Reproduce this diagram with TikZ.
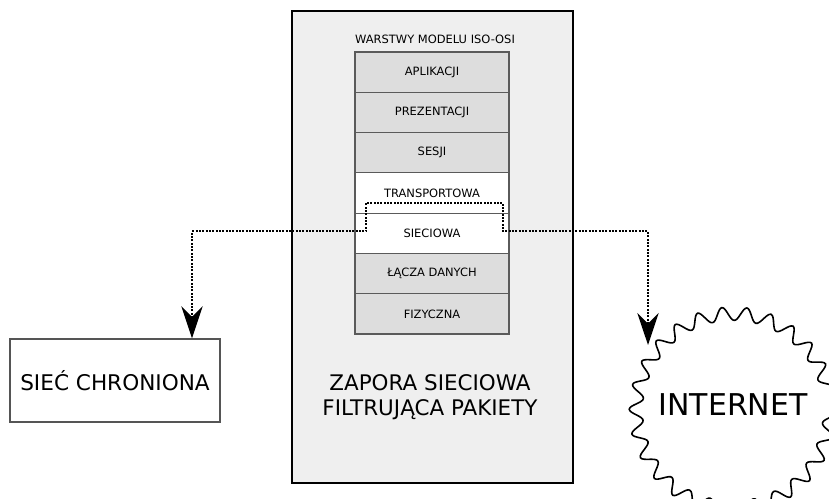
\documentclass[tikz,border=0pt]{standalone}
\usepackage{fontspec}
\setmainfont{DejaVu Sans}
\usetikzlibrary{arrows.meta,decorations.pathmorphing}
\definecolor{fwfill}{HTML}{EFEFEF}
\definecolor{layfill}{HTML}{DDDDDD}
\definecolor{laydraw}{HTML}{5A5A5A}
\definecolor{boxdraw}{HTML}{555555}
\tikzset{
  fwbox/.style={draw=black, fill=fwfill, line width=1.5pt, minimum width=210.75pt, minimum height=354pt, inner sep=0pt},
  layer/.style={draw=laydraw, line width=0.9pt, fill=layfill, minimum width=115.5pt, minimum height=30.2pt, inner sep=0pt, font=\fontsize{8.6}{10}\selectfont},
  layerw/.style={layer, fill=white},
  netbox/.style={draw=boxdraw, line width=1.1pt, fill=white, minimum width=157.5pt, minimum height=62.25pt, inner sep=0pt, font=\fontsize{16.2}{20}\selectfont},
  conn/.style={line width=1.5pt, dash pattern=on 1.4pt off 1.1pt},
  bigtip/.tip={Stealth[length=24pt, width=16pt, inset=8pt]},
}
\begin{document}
\begin{tikzpicture}[x=0.75pt, y=-0.75pt]
\useasboundingbox (0,0) rectangle (829,499);
\clip (0,0) rectangle (829,499);
\node[fwbox] (fw) at (432.5,247) {};
\node[font=\fontsize{8.6}{10}\selectfont] (title) at (435,39) {WARSTWY MODELU ISO-OSI};
\node[layer]  (l7) at (432,72.1)  {APLIKACJI};
\node[layer]  (l6) at (432,112.4) {PREZENTACJI};
\node[layer]  (l5) at (432,152.7) {SESJI};
\node[layerw] (l4) at (432,193.0) {TRANSPORTOWA};
\node[layerw] (l3) at (432,233.3) {SIECIOWA};
\node[layer]  (l2) at (432,273.6) {ŁĄCZA DANYCH};
\node[layer]  (l1) at (432,313.9) {FIZYCZNA};
\node[align=center, font=\fontsize{16.1}{18.75}\selectfont] (fwtext) at (430,397) {ZAPORA SIECIOWA\\FILTRUJĄCA PAKIETY};
\node[netbox] (sc) at (115,380.5) {SIEĆ CHRONIONA};
\node[circle, minimum size=145.5pt, inner sep=0pt, font=\fontsize{22.5}{26}\selectfont] (inet) at (733,405) {INTERNET};
\draw[line width=1.2pt, decorate, decoration={snake, segment length=17.58pt, amplitude=5pt}] (inet.center) circle (97);
\coordinate (p1) at (192,231.5);
\coordinate (p2) at (366,231.5);
\coordinate (p3) at (366,203);
\coordinate (p4) at (503,203);
\coordinate (p5) at (503,231.5);
\coordinate (p6) at (648,231.5);
\coordinate (ie) at (648,345);
\draw[conn, bigtip-bigtip] (sc.north -| p1) -- (p1) -- (p2) -- (p3) -- (p4) -- (p5) -- (p6) -- (ie);
\end{tikzpicture}
\end{document}
